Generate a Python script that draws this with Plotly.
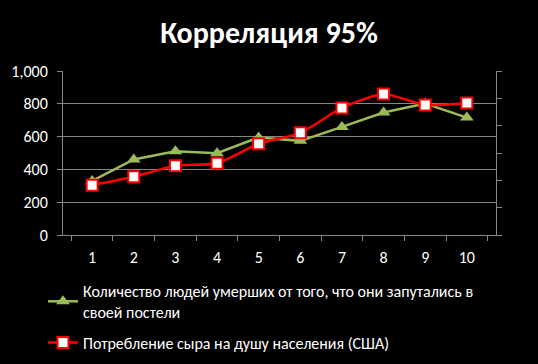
import plotly.graph_objects as go

categories = ["1", "2", "3", "4", "5", "6", "7", "8", "9", "10"]
deaths = [330, 461, 511, 499, 595, 574, 659, 747, 802, 716]
cheese = [304, 355, 422, 438, 556, 623, 775, 860, 793, 805]
name_deaths = "Количество людей умерших от того, что они запутались в<br>своей постели"
name_cheese = "Потребление сыра на душу населения (США)"
title_text = "Корреляция 95%"

FONT = "Carlito, Liberation Sans, Arial, sans-serif"
GRID = "#868686"

fig = go.Figure()
fig.add_trace(go.Scatter(
    x=categories, y=deaths, name=name_deaths, mode="lines+markers", legendgroup="a",
    line=dict(color="#9BBB59", width=2.5),
    marker=dict(symbol="triangle-up", size=12, color="#9BBB59"),
))
fig.add_trace(go.Scatter(
    x=categories, y=cheese, name=name_cheese, mode="lines+markers", yaxis="y2", legendgroup="b",
    line=dict(color="#FF0000", width=2.5, shape="spline", smoothing=0.6),
    marker=dict(symbol="square", size=11, color="white", line=dict(color="#FF0000", width=2)),
))

fig.update_layout(
    width=538, height=364,
    paper_bgcolor="black", plot_bgcolor="black",
    margin=dict(l=63, r=42, t=71, b=129, autoexpand=False),
    font=dict(family=FONT, color="white", size=13),
    title=dict(text="<b>" + title_text + "</b>", x=0.5, xanchor="center", y=1 - 32 / 364, yanchor="middle",
               font=dict(size=30, color="white", family=FONT)),
    xaxis=dict(type="category", tickson="boundaries", ticks="outside", ticklen=5, tickcolor=GRID,
               showline=True, linecolor=GRID, linewidth=1, showgrid=False, ticklabelstandoff=8,
               tickfont=dict(size=16, color="white")),
    yaxis=dict(range=[0, 1000], dtick=200, tickformat=",", ticks="outside", ticklen=5, tickcolor=GRID,
               showline=True, linecolor=GRID, linewidth=1, gridcolor=GRID, gridwidth=1, ticklabelstandoff=6,
               zeroline=False, tickfont=dict(size=16, color="white")),
    yaxis2=dict(overlaying="y", side="right", range=[0, 1000], tickmode="linear", tick0=0, dtick=1000 / 6,
                ticks="outside", ticklen=5, tickcolor=GRID, showticklabels=False,
                showline=True, linecolor=GRID, linewidth=1, showgrid=False, zeroline=False),
    showlegend=True,
    legend=dict(xref="container", yref="container", x=43 / 538, y=1 - 274 / 364, xanchor="left", yanchor="top",
                bgcolor="rgba(0,0,0,0)", font=dict(size=16, color="white"), tracegroupgap=7, itemwidth=30),
)

fig.write_html("out.html", post_script="document.body.style.margin='0';", config={"displayModeBar": False})
